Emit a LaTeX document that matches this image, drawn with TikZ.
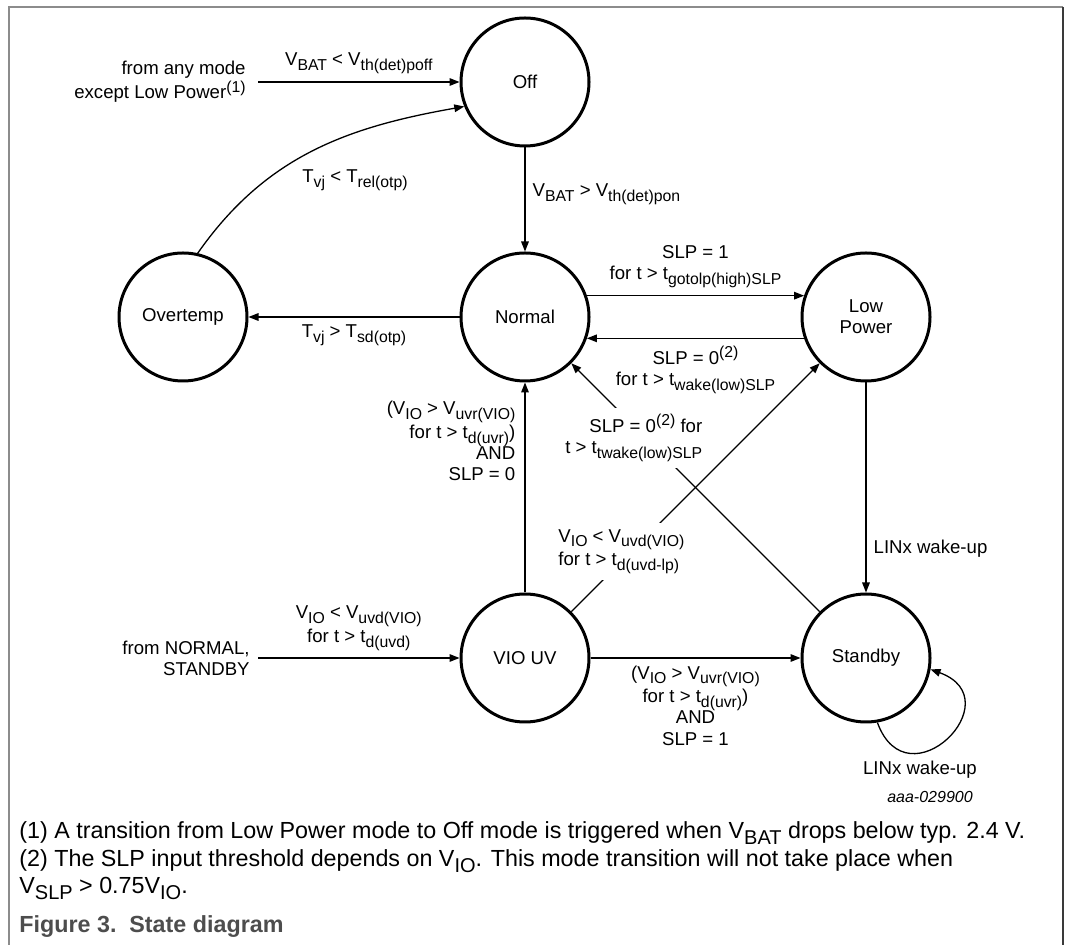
\documentclass[tikz,border=0pt]{standalone}
\usepackage{fontspec}
\setmainfont{Liberation Sans}
\usetikzlibrary{arrows.meta,positioning}
\definecolor{cFr}{HTML}{8C8C8C}
\definecolor{cFd}{HTML}{3A3A3A}
\definecolor{cCap}{HTML}{4D4D4D}
\newcommand{\lblfont}{\fontsize{9.3}{10.6}\selectfont}
\newcommand{\sbs}[1]{\raisebox{-2.4pt}{\fontsize{7.9}{8}\selectfont#1}}
\newcommand{\sps}[1]{\raisebox{3.4pt}{\fontsize{7.9}{8}\selectfont#1}}
\newcommand{\fsb}[1]{\raisebox{-3pt}{\fontsize{10}{10}\selectfont#1}}
\tikzset{
  state/.style={circle,draw,line width=1.5pt,minimum size=64pt,inner sep=0pt,
                align=center,font=\lblfont},
  trans/.style={-{Triangle[length=5pt,width=3.8pt]},line width=.65pt},
  lbl/.style={font=\lblfont,inner sep=1.5pt},
  gap/.style={lbl,fill=white,inner sep=3pt},
  fnote/.style={anchor=base west,inner sep=0pt,font=\fontsize{11.65}{14}\selectfont},
}

\begin{document}
\begin{tikzpicture}[x=0.5pt,y=-0.5pt]
  \useasboundingbox (0,0) rectangle (1066,945);
  % frame
  \draw[cFr,line width=.9pt] (9,945) -- (9,7) -- (1063,7);
  \draw[cFd,line width=.9pt] (1063,7) -- (1063,945);

  % states
  \node[state] (off)   at (525,82)  {Off};
  \node[state] (norm)  at (525,317) {Normal};
  \node[state] (otemp) at (183,317) {Overtemp};
  \node[state] (lowp)  at (866,317) {Low\\Power};
  \node[state] (viouv) at (525,658) {VIO UV};
  \node[state] (stby)  at (866,658) {Standby};

  % entries from outside
  \coordinate (anyin) at (258,82);
  \coordinate (viin)  at (258,658);
  \node[lbl,left=4.5pt of anyin,align=right] (anytxt)
    {from any mode\\except Low Power\sps{(1)}};
  \draw[trans] (anyin) -- node[lbl,above=2.5pt] (vpoff)
    {V\sbs{BAT} < V\sbs{th(det)poff}} (off);
  \node[lbl,left=2.5pt of viin,align=right] (nstxt) {from NORMAL,\\STANDBY};
  \draw[trans] (viin) -- node[lbl,above=2pt,align=center] (vuvd)
    {V\sbs{IO} < V\sbs{uvd(VIO)}\\for t > t\sbs{d(uvd)}} (viouv);

  % transitions
  \draw[trans] (off) -- node[lbl,right=2pt,pos=.45] (vpon)
    {V\sbs{BAT} > V\sbs{th(det)pon}} (norm);
  \draw[trans] (otemp.77) to[out=55,in=190] (off.202);
  \node[lbl] (trel) at (355,180) {T\sbs{vj} < T\sbs{rel(otp)}};
  \draw[trans] (norm) -- node[lbl,below=2pt] (tsd)
    {T\sbs{vj} > T\sbs{sd(otp)}} (otemp);
  \draw[trans] (norm.19) -- node[lbl,above=2pt,align=center] (gotolp)
    {SLP = 1\\for t > t\sbs{gotolp(high)SLP}} (lowp.161);
  \draw[trans] (lowp.199) -- node[lbl,below=2pt,align=center] (wake)
    {SLP = 0\sps{(2)}\\for t > t\sbs{wake(low)SLP}} (norm.-19);
  \draw[trans] (viouv) -- node[lbl,left=3pt,pos=.72,align=right] (uvrn)
    {(V\sbs{IO} > V\sbs{uvr(VIO)}\\for t > t\sbs{d(uvr)})\\AND\\SLP = 0} (norm);
  \draw[trans] (stby) -- node[gap,pos=.7,xshift=-6pt,align=right] (twake)
    {SLP = 0\sps{(2)} for\\t > t\sbs{twake(low)SLP}} (norm);
  \draw[trans] (viouv) -- node[gap,pos=.242,xshift=-5pt,align=left] (uvdlp)
    {V\sbs{IO} < V\sbs{uvd(VIO)}\\for t > t\sbs{d(uvd-lp)}} (lowp);
  \draw[trans] (viouv) -- node[lbl,below=2pt,align=center] (uvrs)
    {(V\sbs{IO} > V\sbs{uvr(VIO)}\\for t > t\sbs{d(uvr)})\\AND\\SLP = 1} (stby);
  \draw[trans] (lowp) -- node[lbl,right=2pt,pos=.79] (linxa) {LINx wake-up} (stby);
  \draw[trans] (stby.-80) to[out=-70,in=-20,looseness=3] (stby.-10);
  \node[lbl] (linxb) at (920,770) {LINx wake-up};
  \node[lbl,font=\fontsize{8}{9}\selectfont\itshape] (docid) at (930,797) {aaa-029900};

  % notes
  \node[fnote] (fnA) at (19,839)
    {(1) A transition from Low Power mode to Off mode is triggered when V\fsb{BAT} drops below typ. 2.4 V.};
  \node[fnote] (fnB) at (19,867)
    {(2) The SLP input threshold depends on V\fsb{IO}. This mode transition will not take place when};
  \node[fnote] (fnC) at (19,893) {V\fsb{SLP} > 0.75V\fsb{IO}.};
  \node[fnote,font=\fontsize{11.65}{14}\selectfont\bfseries,text=cCap] (figcap) at (19,933)
    {Figure 3.\ \ State diagram};
\end{tikzpicture}
\end{document}
